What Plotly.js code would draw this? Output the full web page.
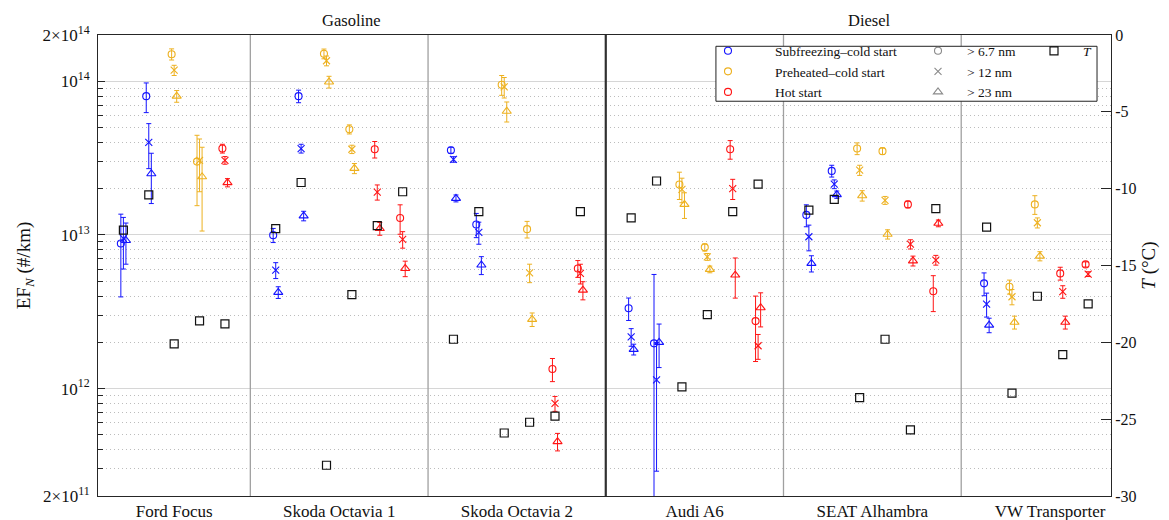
<!DOCTYPE html>
<html><head><meta charset="utf-8">
<script src="https://cdn.plot.ly/plotly-3.0.1.min.js"></script>
<style>html,body{margin:0;padding:0;background:#fff}#chart{width:1169px;height:520px}</style>
</head><body><div id="chart"></div>
<script>
// ---------------- data ----------------
const vehicles = ['Ford Focus', 'Skoda Octavia 1', 'Skoda Octavia 2', 'Audi A6', 'SEAT Alhambra', 'VW Transporter'];
const fuelTypes = ['Gasoline', 'Diesel'];
const conditions = ['Subfreezing\u2013cold start', 'Preheated\u2013cold start', 'Hot start'];
const sizeCuts = ['> 6.7 nm', '> 12 nm', '> 23 nm'];

// one entry per test
const testVehicle = [0,0,0,0,0, 1,1,1,1,1,1, 2,2,2,2,2,2, 3,3,3,3,3,3, 4,4,4,4,4,4, 5,5,5,5,5];
const testOrder   = [1,2,3,4,5, 0,1,2,3,4,5, 0,1,2,3,4,5, 0,1,2,3,4,5, 0,1,2,3,4,5, 0,1,2,3,4];
const testCondition = [0,0,1,1,2, 0,0,1,1,2,2, 0,0,1,1,2,2, 0,0,1,1,2,2, 0,0,1,1,2,2, 0,1,1,2,2];

const ef67 = [8.8e12, 8.0e13, 1.5e14, 3.0e13, 3.65e13,
  9.97e12, 8.0e13, 1.51e14, 4.87e13, 3.61e13, 1.29e13,
  3.56e13, 1.17e13, 9.5e13, 1.09e13, 1.34e12, 6.05e12,
  3.33e12, 1.97e12, 2.13e13, 8.3e12, 3.61e13, 2.75e12,
  1.35e13, 2.61e13, 3.65e13, 3.51e13, 1.58e13, 4.3e12,
  4.84e12, 4.6e12, 1.58e13, 5.62e12, 6.43e12];
const ef67Err = [4.85e12, 1.75e13, 1.25e13, 1.45e13, 2.4e12,
  1.05e12, 7.5e12, 1.1e13, 3.3e12, 4.45e12, 2.8e12,
  1.6e12, 2.1e12, 1.4e13, 1.35e12, 2.3e11, 7.6e11,
  5.55e11, 3.56e12, 4.3e12, 4.5e11, 5.0e12, 1.25e12,
  2.2e12, 2.3e12, 3.2e12, 1.7e12, 8.0e11, 1.13e12,
  8.2e11, 4.8e11, 2.2e12, 5.4e11, 2.5e11];
const ef12 = [9.5e12, 4.0e13, 1.18e14, 3.06e13, 3.06e13,
  5.9e12, 3.65e13, 1.36e14, 3.61e13, 1.9e13, 9.35e12,
  3.1e13, 1.04e13, 9.18e13, 5.67e12, 8.0e11, 5.62e12,
  2.17e12, 1.14e12, 1.98e13, 7.2e12, 2.0e13, 1.9e12,
  9.73e12, 2.14e13, 2.64e13, 1.68e13, 8.7e12, 6.86e12,
  3.55e12, 3.96e12, 1.2e13, 4.27e12, 5.56e12];
const ef12Err = [3.5e12, 1.3e13, 9.0e12, 1.15e13, 1.75e12,
  7.0e11, 2.4e12, 1.0e13, 2.25e12, 2.15e12, 1.15e12,
  1.3e12, 1.7e12, 1.4e13, 7.8e11, 8.9e10, 8.25e11,
  2.85e11, 8.5e11, 3.6e12, 3.7e11, 3.0e12, 3.5e11,
  1.85e12, 1.4e12, 2.0e12, 1.0e12, 6.0e11, 5.0e11,
  6.3e11, 4.5e11, 9.0e11, 4.0e11, 2.0e11];
const ef23 = [9.2e12, 2.5e13, 8.0e13, 2.39e13, 2.19e13,
  4.23e12, 1.33e13, 9.9e13, 2.71e13, 1.1e13, 6.05e12,
  1.73e13, 6.37e12, 6.38e13, 2.82e12, 4.52e11, 4.37e12,
  1.8e12, 2.0e12, 1.58e13, 5.97e12, 5.48e12, 3.36e12,
  6.53e12, 1.83e13, 1.8e13, 1.01e13, 6.78e12, 1.19e13,
  2.59e12, 2.7e12, 7.28e12, 2.7e12, null];
const ef23Err = [2.75e12, 9.0e12, 7.0e12, 1.33e13, 1.35e12,
  3.7e11, 9.5e11, 8.7e12, 2.05e12, 1.05e12, 7.0e11,
  9.0e11, 8.5e11, 9.5e12, 2.85e11, 5.9e10, 5.9e11,
  1.45e11, 6.3e11, 3.0e12, 3.0e11, 1.6e12, 8.4e11,
  7.9e11, 1.0e12, 1.4e12, 7.0e11, 5.0e11, 6.0e11,
  2.8e11, 2.6e11, 5.0e11, 2.6e11, null];
const tempC = [-12.7, -10.4, -20.1, -18.6, -18.8,
  -12.6, -9.6, -28.0, -16.9, -12.4, -10.2,
  -19.8, -11.5, -25.9, -25.2, -24.8, -11.5,
  -11.9, -9.5, -22.9, -18.2, -11.5, -9.7,
  -11.4, -10.7, -23.6, -19.8, -25.7, -11.3,
  -12.5, -23.3, -17.0, -20.8, -17.5];

const efTickVals = [2e11, 1e12, 1e13, 1e14, 2e14];
const efTickText = ['2\u00d710<sup>11</sup>', '10<sup>12</sup>', '10<sup>13</sup>', '10<sup>14</sup>', '2\u00d710<sup>14</sup>'];
const tTickVals = [0, -5, -10, -15, -20, -25, -30];
const tTickText = ['0', '-5', '-10', '-15', '-20', '-25', '-30'];

// ---------------- layout helpers ----------------
const SLOTS = 7;                                   // slot units per vehicle block
const vehicleLabelPos = [3, 9.5, 16.5, 23.5, 30.5, 37.5];
const fuelLabelPos = [10, 30.4];
const condColors = ['#1414ff', '#edb120', '#ff1414'];
const sizeSymbols = ['circle-open', 'x-thin-open', 'triangle-up-open'];
const sizeSizes = [7, 7, 8];
const sizeOffset = [-0.1, 0, 0.1];
const FONT = 'Liberation Serif, Times New Roman, serif';

const testX = testVehicle.map((v, i) => v * SLOTS + testOrder[i]);
const efVals = [ef67, ef12, ef23];
const efErrs = [ef67Err, ef12Err, ef23Err];

const traces = [];
for (let c = 0; c < conditions.length; c++) {
  const idx = testCondition.map((cc, i) => cc === c ? i : -1).filter(i => i >= 0);
  for (let s = 0; s < 3; s++) {
    traces.push({
      type: 'scatter', mode: 'markers', showlegend: false, hoverinfo: 'skip',
      x: idx.map(i => testX[i] + sizeOffset[s]),
      y: idx.map(i => efVals[s][i]),
      error_y: {type: 'data', symmetric: true, array: idx.map(i => efErrs[s][i]),
                color: condColors[c], thickness: 1, width: 2.5},
      marker: {symbol: sizeSymbols[s], size: sizeSizes[s], color: condColors[c], line: {width: 1.1, color: condColors[c]}}
    });
  }
}
// temperature
traces.push({
  type: 'scatter', mode: 'markers', name: '<i>T</i>', legend: 'legend3', yaxis: 'y2',
  x: testX, y: tempC,
  marker: {symbol: 'square-open', size: 8, color: '#111', line: {width: 1.2, color: '#111'}}
});
// legend entries
conditions.forEach((name, c) => traces.push({
  type: 'scatter', mode: 'markers', name: name, legend: 'legend', x: [null], y: [null],
  marker: {symbol: 'circle-open', size: 7, color: condColors[c], line: {width: 1.1}}
}));
sizeCuts.forEach((name, s) => traces.push({
  type: 'scatter', mode: 'markers', name: name, legend: 'legend2', x: [null], y: [null],
  marker: {symbol: sizeSymbols[s], size: sizeSizes[s], color: '#8a8a8a', line: {width: 1.1}}
}));

const shapes = [];
for (let k = 1; k < vehicles.length; k++) {
  const xs = k * SLOTS - 1;
  const thick = (k === 3);
  shapes.push({type: 'line', xref: 'x', yref: 'paper', x0: xs, x1: xs, y0: 0, y1: 1, layer: 'above',
    line: {color: thick ? '#303030' : '#a0a0a0', width: thick ? 2.2 : 1.3}});
}
// legend frame
shapes.push({type: 'rect', xref: 'paper', yref: 'paper', x0: 0.610, x1: 0.9862, y0: 0.8563, y1: 0.9755,
  layer: 'above', fillcolor: '#ffffff', line: {color: '#222', width: 1}});

const annotations = fuelTypes.map((f, i) => ({
  text: f, x: fuelLabelPos[i], xref: 'x', y: 1, yref: 'paper', yanchor: 'bottom', yshift: 3,
  showarrow: false, font: {family: FONT, size: 16.5, color: '#111'}
}));

const minorVals = [];
[1e11, 1e12, 1e13].forEach(d => { for (let m = 2; m <= 9; m++) minorVals.push(m * d); });

const legendBase = {bgcolor: 'rgba(0,0,0,0)', borderwidth: 0, yanchor: 'top', xanchor: 'left',
  y: 0.9989, font: {family: FONT, size: 13.5, color: '#111'}, itemclick: false};

const layout = {
  width: 1169, height: 520,
  margin: {l: 98, r: 58, t: 35, b: 24},
  paper_bgcolor: '#fff', plot_bgcolor: '#fff',
  font: {family: FONT, size: 15, color: '#111'},
  showlegend: true,
  xaxis: {range: [0, 39.9], tickmode: 'array', tickvals: vehicleLabelPos, ticktext: vehicles,
    ticks: '', showgrid: false, zeroline: false, showline: true, mirror: true,
    linecolor: '#262626', linewidth: 1, tickfont: {size: 17}, automargin: false},
  yaxis: {type: 'log', range: [Math.log10(2e11), Math.log10(2e14)], tickmode: 'array',
    tickvals: efTickVals, ticktext: efTickText, ticks: 'inside', ticklen: 7, tickcolor: '#262626',
    showline: true, linecolor: '#262626', linewidth: 1, zeroline: false,
    showgrid: true, gridcolor: '#d6d6d6', gridwidth: 1, ticklabelstandoff: 4,
    minor: {tickmode: 'array', tickvals: minorVals, ticks: 'inside', ticklen: 5, tickcolor: '#262626',
      showgrid: true, gridcolor: '#bcbcbc', griddash: '1px,3px', gridwidth: 1},
    title: {text: 'EF<sub><i>N</i></sub> (#/km)', font: {size: 19}, standoff: 6},
    tickfont: {size: 17}, automargin: false},
  yaxis2: {overlaying: 'y', side: 'right', range: [-30, 0], tickmode: 'array', tickvals: tTickVals,
    ticktext: tTickText, ticks: 'inside', ticklen: 10, tickcolor: '#262626', showgrid: false,
    zeroline: false, showline: true, linecolor: '#262626', linewidth: 1,
    title: {text: '<i>T</i> (\u00b0C)', font: {size: 19}, standoff: 6},
    tickfont: {size: 16}, automargin: false},
  legend: Object.assign({}, legendBase, {x: 0.5755, itemwidth: 84}),
  legend2: Object.assign({}, legendBase, {x: 0.8006, itemwidth: 48}),
  legend3: Object.assign({}, legendBase, {x: 0.9151, itemwidth: 48}),
  shapes: shapes,
  annotations: annotations
};

Plotly.newPlot('chart', traces, layout, {displayModeBar: false, staticPlot: true});
</script>
</body></html>
